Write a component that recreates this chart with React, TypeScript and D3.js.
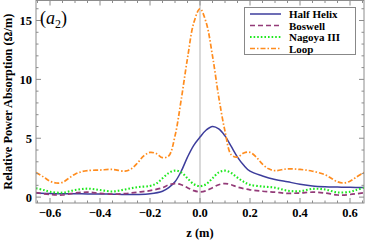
import React, { useEffect, useRef } from 'react';
import * as d3 from 'd3';

// [z (m), relative power absorption (Ω/m)]
const halfHelix: [number, number][] = [
  [-0.656, 0.35], [-0.6, 0.3], [-0.55, 0.28], [-0.5, 0.28], [-0.45, 0.27], [-0.4, 0.27],
  [-0.35, 0.25], [-0.3, 0.22], [-0.25, 0.22], [-0.2, 0.28], [-0.15, 0.5], [-0.125, 0.8],
  [-0.1, 1.3], [-0.075, 2.2], [-0.05, 3.4], [-0.025, 4.4], [0, 5.1], [0.025, 5.7],
  [0.05, 6.0], [0.075, 5.8], [0.1, 5.2], [0.125, 4.3], [0.15, 3.4], [0.175, 2.7],
  [0.2, 2.2], [0.25, 1.8], [0.3, 1.5], [0.35, 1.3], [0.4, 1.1], [0.45, 0.95],
  [0.5, 0.88], [0.55, 0.85], [0.6, 0.83], [0.656, 0.82],
];

const boswell: [number, number][] = [
  [-0.656, 0.38], [-0.6, 0.22], [-0.55, 0.18], [-0.5, 0.35], [-0.45, 0.42], [-0.4, 0.32],
  [-0.35, 0.25], [-0.3, 0.3], [-0.25, 0.42], [-0.2, 0.55], [-0.15, 0.8], [-0.125, 1.05],
  [-0.1, 1.15], [-0.075, 1.05], [-0.05, 0.8], [-0.025, 0.55], [0, 0.45], [0.025, 0.55],
  [0.05, 0.8], [0.075, 1.05], [0.1, 1.15], [0.125, 1.05], [0.15, 0.85], [0.2, 0.62],
  [0.25, 0.5], [0.3, 0.42], [0.35, 0.32], [0.4, 0.35], [0.45, 0.42], [0.5, 0.35],
  [0.55, 0.18], [0.6, 0.22], [0.656, 0.38],
];

const nagoya: [number, number][] = [
  [-0.656, 0.75], [-0.625, 0.6], [-0.6, 0.45], [-0.55, 0.38], [-0.5, 0.6], [-0.45, 0.72],
  [-0.4, 0.6], [-0.35, 0.48], [-0.3, 0.65], [-0.25, 0.85], [-0.2, 0.95], [-0.175, 1.15],
  [-0.15, 1.6], [-0.125, 2.05], [-0.1, 2.25], [-0.075, 2.1], [-0.05, 1.6], [-0.025, 1.1],
  [0, 0.93], [0.025, 1.1], [0.05, 1.6], [0.075, 2.1], [0.1, 2.25], [0.125, 2.05],
  [0.15, 1.65], [0.175, 1.3], [0.2, 1.05], [0.25, 0.9], [0.3, 0.8], [0.35, 0.55],
  [0.4, 0.5], [0.45, 0.7], [0.5, 0.65], [0.55, 0.4], [0.6, 0.45], [0.625, 0.6], [0.656, 0.8],
];

const loop: [number, number][] = [
  [-0.656, 2.1], [-0.625, 1.7], [-0.6, 1.35], [-0.575, 1.2], [-0.55, 1.25], [-0.525, 1.6],
  [-0.5, 1.95], [-0.475, 2.15], [-0.45, 2.25], [-0.4, 2.3], [-0.35, 2.35], [-0.3, 2.2],
  [-0.275, 2.4], [-0.25, 2.9], [-0.225, 3.5], [-0.2, 3.8], [-0.175, 3.7], [-0.15, 3.35],
  [-0.125, 3.5], [-0.1, 5.2], [-0.075, 8.3], [-0.05, 11.8], [-0.025, 14.8], [0, 16.0],
  [0.025, 14.8], [0.05, 12.0], [0.075, 8.5], [0.1, 5.6], [0.125, 3.6], [0.15, 3.4],
  [0.175, 3.75], [0.2, 3.8], [0.225, 3.4], [0.25, 2.8], [0.275, 2.4], [0.3, 2.25],
  [0.35, 2.4], [0.4, 2.35], [0.45, 2.2], [0.5, 1.9], [0.525, 1.6], [0.55, 1.3],
  [0.575, 1.2], [0.6, 1.35], [0.625, 1.7], [0.656, 2.1],
];

const seriesNames = ['Half Helix', 'Boswell', 'Nagoya III', 'Loop'];
const xTicks = [-0.6, -0.4, -0.2, 0.0, 0.2, 0.4, 0.6];
const yTicks = [0, 5, 10, 15];

const FONT = '"Liberation Serif", "DejaVu Serif", serif';

const App: React.FC = () => {
  const ref = useRef<SVGSVGElement>(null);

  useEffect(() => {
    if (!ref.current) return;
    const width = 386;
    const height = 240;
    const left = 36,
      right = 364,
      top = 0.5,
      bottom = 203;

    const svg = d3.select(ref.current);
    svg.selectAll('*').remove();
    svg.attr('width', width).attr('height', height);

    const x = d3.scaleLinear().domain([-0.656, 0.656]).range([left, right]);
    const y = d3.scaleLinear().domain([-0.5, 16.7]).range([bottom, top]);

    const styles = [
      { color: '#3d3d9c', dash: null, w: 1.5 },
      { color: '#933b78', dash: '5,3', w: 1.7 },
      { color: '#1ee81e', dash: '1.6,2', w: 2.1 },
      { color: '#ff8c1e', dash: '5,2,1.5,2', w: 1.7 },
    ];
    const data = [halfHelix, boswell, nagoya, loop];

    // zero line
    svg
      .append('line')
      .attr('x1', x(0))
      .attr('x2', x(0))
      .attr('y1', top)
      .attr('y2', bottom)
      .attr('stroke', '#cccccc')
      .attr('stroke-width', 1.5);

    const line = d3
      .line<[number, number]>()
      .x((d) => x(d[0]))
      .y((d) => y(d[1]))
      .curve(d3.curveCatmullRom.alpha(0.5));

    svg
      .append('clipPath')
      .attr('id', 'plotclip')
      .append('rect')
      .attr('x', left)
      .attr('y', top)
      .attr('width', right - left)
      .attr('height', bottom - top);

    const g = svg.append('g').attr('clip-path', 'url(#plotclip)');
    data.forEach((d, i) => {
      g.append('path')
        .datum(d)
        .attr('d', line)
        .attr('fill', 'none')
        .attr('stroke', styles[i].color)
        .attr('stroke-width', styles[i].w)
        .attr('stroke-dasharray', styles[i].dash);
    });

    // frame
    svg
      .append('rect')
      .attr('x', left)
      .attr('y', top)
      .attr('width', right - left)
      .attr('height', bottom - top)
      .attr('fill', 'none')
      .attr('stroke', '#8c8c8c')
      .attr('stroke-width', 1);

    const tickColor = '#8c8c8c';
    // x ticks (major + minor), bottom and top
    const xMinor = d3.range(-13, 14).map((k) => k * 0.05);
    xMinor.forEach((v) => {
      const major = Math.abs(v / 0.2 - Math.round(v / 0.2)) < 1e-6;
      const len = major ? 5 : 2.5;
      const px = x(v);
      if (px < left || px > right) return;
      svg.append('line').attr('x1', px).attr('x2', px).attr('y1', bottom).attr('y2', bottom - len).attr('stroke', tickColor);
      svg.append('line').attr('x1', px).attr('x2', px).attr('y1', top).attr('y2', top + len).attr('stroke', tickColor);
    });
    // y ticks left and right
    d3.range(0, 17).forEach((v) => {
      const major = v % 5 === 0;
      const len = major ? 5 : 2.5;
      const py = y(v);
      svg.append('line').attr('x1', left).attr('x2', left + len).attr('y1', py).attr('y2', py).attr('stroke', tickColor);
      svg.append('line').attr('x1', right).attr('x2', right - len).attr('y1', py).attr('y2', py).attr('stroke', tickColor);
    });

    // tick labels
    svg
      .append('g')
      .selectAll('text')
      .data(xTicks)
      .join('text')
      .attr('x', (d) => x(d))
      .attr('y', 217)
      .attr('text-anchor', 'middle')
      .attr('font-family', FONT)
      .attr('font-weight', 'bold')
      .attr('font-size', 12.5)
      .text((d) => (d < 0 ? '\u2212' : '') + Math.abs(d).toFixed(1));

    svg
      .append('g')
      .selectAll('text')
      .data(yTicks)
      .join('text')
      .attr('x', left - 4)
      .attr('y', (d) => y(d) + 4.5)
      .attr('text-anchor', 'end')
      .attr('font-family', FONT)
      .attr('font-weight', 'bold')
      .attr('font-size', 12.5)
      .text((d) => d);

    // axis titles
    svg
      .append('text')
      .attr('x', x(0))
      .attr('y', 237)
      .attr('text-anchor', 'middle')
      .attr('font-family', FONT)
      .attr('font-weight', 'bold')
      .attr('font-size', 12.5)
      .text('z (m)');

    svg
      .append('text')
      .attr('transform', `translate(12, ${(top + bottom) / 2}) rotate(-90)`)
      .attr('text-anchor', 'middle')
      .attr('font-family', FONT)
      .attr('font-weight', 'bold')
      .attr('font-size', 12.3)
      .text('Relative Power Absorption (\u03a9/m)');

    // panel label
    const lab = svg
      .append('text')
      .attr('x', 40)
      .attr('y', 24)
      .attr('font-family', FONT)
      .attr('font-size', 18);
    lab.append('tspan').text('(');
    lab.append('tspan').attr('font-style', 'italic').text('a');
    lab.append('tspan').attr('font-size', 12).attr('dy', 4).text('2');
    lab.append('tspan').attr('dy', -4).text(')');

    // legend
    const lg = svg.append('g');
    lg.append('rect')
      .attr('x', 244.5)
      .attr('y', 7.5)
      .attr('width', 111)
      .attr('height', 47)
      .attr('fill', 'white')
      .attr('stroke', '#888888');
    seriesNames.forEach((name, i) => {
      const yy = 14 + i * 11.5;
      lg.append('line')
        .attr('x1', 250)
        .attr('x2', 281)
        .attr('y1', yy)
        .attr('y2', yy)
        .attr('stroke', styles[i].color)
        .attr('stroke-width', styles[i].w)
        .attr('stroke-dasharray', styles[i].dash);
      lg.append('text')
        .attr('x', 289)
        .attr('y', yy + 4)
        .attr('font-family', FONT)
        .attr('font-weight', 'bold')
        .attr('font-size', 11)
        .text(name);
    });
  }, []);

  return (
    <div style={{ position: 'absolute', left: 0, top: 0 }}>
      <svg ref={ref} width={386} height={240} style={{ display: 'block' }} />
    </div>
  );
};

export default App;
